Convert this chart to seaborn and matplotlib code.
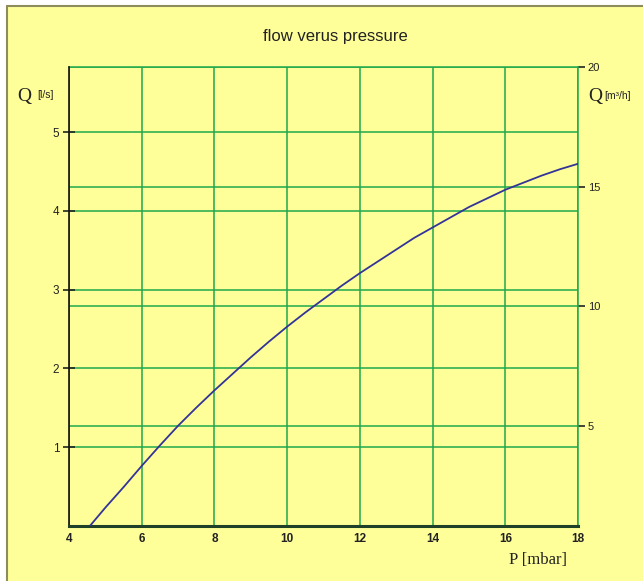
import matplotlib
matplotlib.use("Agg")
import matplotlib.pyplot as plt
import seaborn as sns
import pandas as pd
from matplotlib.patches import Rectangle
from matplotlib.lines import Line2D

# values
pressure_mbar = [4.58, 5.0, 5.5, 6.0, 6.5, 7.0, 7.5, 8.0, 8.5, 9.0, 9.5, 10.0, 10.5, 11.0, 11.5,
                 12.0, 12.5, 13.0, 13.5, 14.0, 14.5, 15.0, 15.5, 16.0, 16.5, 17.0, 17.5, 18.0]
flow_ls = [0.0, 0.23, 0.49, 0.76, 1.02, 1.27, 1.50, 1.72, 1.93, 2.14, 2.34, 2.53, 2.71, 2.88, 3.05,
           3.21, 3.36, 3.51, 3.66, 3.79, 3.92, 4.05, 4.16, 4.27, 4.36, 4.45, 4.53, 4.60]

x_ticks = [4, 6, 8, 10, 12, 14, 16, 18]
left_ticks = [1, 2, 3, 4, 5]
right_ticks = [5, 10, 15, 20]

BG = "#FFFF99"
GRID = "#1fa84c"
CURVE = "#333399"

sns.set_style("white")
plt.rcParams['font.family'] = ['Liberation Sans', 'DejaVu Sans']

df = pd.DataFrame({'P': pressure_mbar, 'Q': flow_ls})

fig = plt.figure(figsize=(6.43, 5.81), dpi=100, facecolor="white")
fig.patch.set_linewidth(0)
# yellow panel with a border on top and left
fig.patches.append(Rectangle((8 / 643, 0), 1, (581 - 7) / 581, transform=fig.transFigure,
                             facecolor=BG, edgecolor="none", lw=0, zorder=-10))
fig.lines.append(Line2D([7 / 643, 7 / 643], [0, (581 - 6) / 581], transform=fig.transFigure,
                        color="#8c8c5c", lw=1.5))
fig.lines.append(Line2D([7 / 643, 1], [(581 - 6) / 581, (581 - 6) / 581], transform=fig.transFigure,
                        color="#8c8c5c", lw=1.5))

ax = fig.add_axes([69 / 643, (581 - 525.7) / 581, (578 - 69) / 643, (525.7 - 67) / 581])
ax2 = ax.twinx()
ax.set_zorder(ax2.get_zorder() + 1)
ax.patch.set_visible(False)
ax2.patch.set_visible(False)

sns.lineplot(data=df, x='P', y='Q', ax=ax, color=CURVE, lw=1.3, zorder=5)

ax.set_xlim(4, 18)
ax.set_ylim(0, 5.83)
ax.set_xticks(x_ticks)
ax.set_yticks(left_ticks)
ax.set_xlabel("")
ax.set_ylabel("")
ax.grid(True, color=GRID, lw=1.1)
ax.set_axisbelow(True)
# outer grid line at the right edge, not clipped
ax.axvline(x_ticks[-1], color=GRID, lw=1.1, clip_on=False, zorder=0.5)

for s in ['top', 'right']:
    ax.spines[s].set_visible(False)
ax.spines['left'].set_color("#111111")
ax.spines['left'].set_linewidth(1.2)
ax.spines['bottom'].set_color("#1e4028")
ax.spines['bottom'].set_linewidth(2.2)
ax.tick_params(axis='x', direction='inout', length=8, width=1.2, color="#1e2e22",
               labelsize=8.5, pad=1, labelcolor="#222222")
for lbl in ax.get_xticklabels():
    lbl.set_fontweight('bold')
ax.tick_params(axis='y', direction='inout', length=8, width=1.2, color="#222222",
               labelsize=8.5, pad=3, labelcolor="#222222")

ax2.set_ylim(0.83, 20)
ax2.set_yticks(right_ticks)
ax2.grid(True, axis='y', color=GRID, lw=1.1)
ax2.grid(False, axis='x')
ax2.axhline(right_ticks[-1], color=GRID, lw=1.1, clip_on=False)
for s in ax2.spines.values():
    s.set_visible(False)
ax2.tick_params(axis='y', direction='out', length=5, width=1.2, color="#222222",
                labelsize=8, pad=2, labelcolor="#222222")

fig.text(335 / 643, 1 - 36 / 581, "flow verus pressure", ha='center', va='center',
         fontsize=12, color="#222222")
fig.text(17 / 643, 1 - 96 / 581, "Q", ha='left', va='center', fontsize=14,
         family='Liberation Serif', color="#222222")
fig.text(37 / 643, 1 - 95 / 581, "[l/s]", ha='left', va='center', fontsize=7.5, color="#222222")
fig.text(588 / 643, 1 - 97 / 581, "Q", ha='left', va='center', fontsize=14,
         family='Liberation Serif', color="#222222")
fig.text(604 / 643, 1 - 96 / 581, "[m³/h]", ha='left', va='center', fontsize=7.5, color="#222222")
fig.text(538 / 643, 1 - 560 / 581, "P [mbar]", ha='center', va='center', fontsize=12,
         family='Liberation Serif', color="#222222")

fig.savefig("out.png", dpi=100, facecolor=fig.get_facecolor())
